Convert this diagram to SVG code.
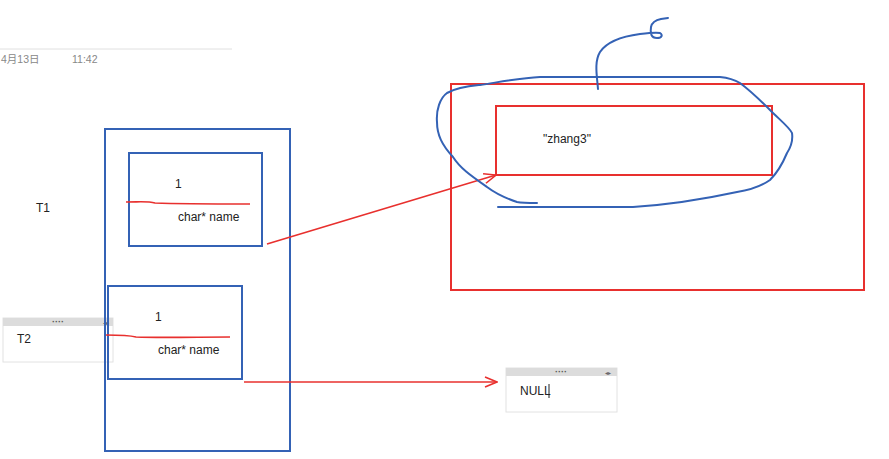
<svg xmlns="http://www.w3.org/2000/svg" width="889" height="459" viewBox="0 0 889 459">
<style>
.t{font-family:"Liberation Sans","Noto Sans CJK SC",sans-serif;fill:#222}
.g{font-family:"Liberation Sans","Noto Sans CJK SC",sans-serif;fill:#888;font-size:10.5px}
.bb{fill:none;stroke:#3462b5;stroke-width:2}
.rb{fill:none;stroke:#e8302e;stroke-width:2}
.rl{fill:none;stroke:#e8302e;stroke-width:1.6}
.ink{fill:none;stroke:#3462b5;stroke-width:2;stroke-linecap:round;stroke-linejoin:round}
.note{fill:#fff;stroke:#e2e2e2;stroke-width:1}
.hdr{fill:#dcdcdc}
.dots{font-family:"Liberation Sans",sans-serif;font-size:9px;fill:#555;font-weight:bold}
.nav{font-family:"DejaVu Sans",sans-serif;font-size:6px;fill:#666}
</style>
<defs>
<marker id="ah" markerWidth="14" markerHeight="12" refX="13" refY="6" orient="auto" markerUnits="userSpaceOnUse">
<path d="M1,1 L13,6 L1,11" fill="none" stroke="#e8302e" stroke-width="1.6"/>
</marker>
</defs>
<rect width="889" height="459" fill="#fff"/>
<g id="header">
<line x1="0" y1="49" x2="232" y2="49" stroke="#e0e0e0" stroke-width="1"/>
<text class="g" x="1" y="63">4月13日</text>
<text class="g" x="72" y="63">11:42</text>
</g>
<g id="T1label"><text class="t" x="36" y="212" font-size="12">T1</text></g>
<g id="T2">
<rect class="note" x="3" y="318" width="110" height="44"/>
<rect class="hdr" x="3" y="318" width="110" height="8"/>
<text class="dots" x="58" y="325" text-anchor="middle">····</text>
<text class="nav" x="103" y="325">◂▸</text>
<text class="t" x="17" y="343" font-size="12">T2</text>
</g>
<g id="outer"><rect class="bb" x="105" y="129" width="185" height="322"/></g>
<g id="s1">
<rect class="bb" x="129" y="153" width="133" height="93"/>
<text class="t" x="175" y="188" font-size="12">1</text>
<path class="rl" d="M126,202 C140,202 148,201 155,203 C180,204 220,204 250,204"/>
<text class="t" x="178" y="221" font-size="12">char* name</text>
</g>
<g id="s2">
<rect class="bb" x="108" y="286" width="134" height="93"/>
<text class="t" x="155" y="321" font-size="12">1</text>
<path class="rl" d="M106,335 C120,335 128,335 136,337 C160,338 200,337 230,337"/>
<text class="t" x="158" y="354" font-size="12">char* name</text>
</g>
<g id="heap">
<rect class="rb" x="451" y="84" width="413" height="206"/>
<rect class="rb" x="496" y="106" width="276" height="69"/>
<text class="t" x="543" y="143" font-size="12">"zhang3"</text>
</g>
<g id="nullbox">
<rect class="note" x="506" y="368" width="111" height="44"/>
<rect class="hdr" x="506" y="368" width="111" height="8"/>
<text class="dots" x="561" y="375" text-anchor="middle">····</text>
<text class="nav" x="605" y="375">◂▸</text>
<text class="t" x="520" y="395" font-size="12">NULL</text>
<line x1="549" y1="384" x2="549" y2="398" stroke="#222" stroke-width="1"/>
</g>
<g id="connectors">
<line class="rl" x1="267" y1="244" x2="496" y2="175" marker-end="url(#ah)"/>
<line class="rl" x1="244" y1="382" x2="497" y2="382" marker-end="url(#ah)"/>
</g>
<g id="ink">
<path class="ink" d="M537,203 C528,203 522,203 517,202 C505,198 495,193 487,187 C470,175 460,168 453,157 C442,145 437,135 437,122 C436,110 440,98 447,93 C458,87 470,86 480,85 C500,82 520,78 540,77 L720,77 C730,78 735,80 740,83 C752,92 762,102 770,110 C780,120 790,128 792,133 C793,140 791,147 787,153 C782,165 776,174 770,180 C760,187 750,190 737,192 C700,200 665,205 633,207 L498,207"/>
<path class="ink" d="M598,89 C597,76 594,62 600,52 C608,40 625,36 640,34 C648,33 656,32 660,33 C663,35 662,38 657,38 C651,38 650,33 651,27 C652,22 656,20 661,19 L668,18"/>
</g>
</svg>
